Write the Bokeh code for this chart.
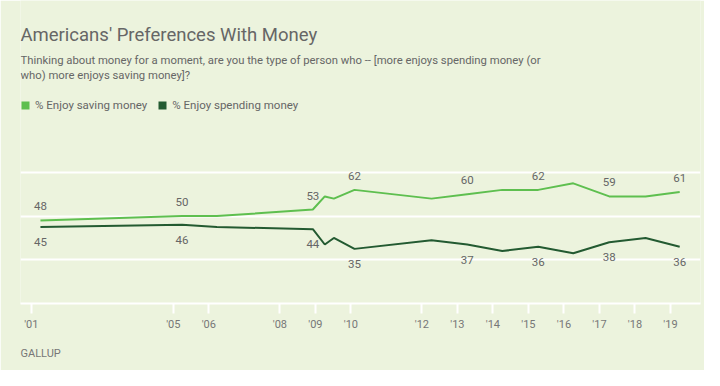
import pandas as pd
from bokeh.plotting import figure
from bokeh.models import (ColumnDataSource, Label, Legend, LegendItem, FixedTicker,
                          Grid, LinearAxis, CustomJSTickFormatter, Range1d, Title)
from bokeh.core.properties import value
from bokeh.embed import file_html
from bokeh.resources import INLINE

# ---------------- data ----------------
dates = ["2001-04-05", "2005-04-01", "2006-03-25", "2008-12-05", "2009-04-08",
         "2009-07-10", "2010-02-07", "2012-04-09", "2013-04-12", "2014-04-07",
         "2015-04-12", "2016-04-06", "2017-04-12", "2018-04-20", "2019-04-06"]
saving = [48, 50, 50, 53, 59, 58, 62, 58, 60, 62, 62, 65, 59, 59, 61]
spending = [45, 46, 45, 44, 37, 40, 35, 39, 37, 34, 36, 33, 38, 40, 36]
labelled = [True, True, False, True, False, False, True, False, True, False,
            True, False, True, False, True]
tick_years = [2001, 2005, 2006, 2008, 2009, 2010, 2012, 2013, 2014, 2015,
              2016, 2017, 2018, 2019]
grid_values = [30, 50, 70]
series_names = ["% Enjoy saving money", "% Enjoy spending money"]

title_text = "Americans' Preferences With Money"
subtitle_1 = "Thinking about money for a moment, are you the type of person who -- [more enjoys spending money (or"
subtitle_2 = "who) more enjoys saving money]?"
source_text = "GALLUP"

# ---------------- styling ----------------
BG = "#ecf3dd"
LIGHT = "#5ebf4f"
DARK = "#235a31"
TEXT = "#666666"
FONT = "Roboto"

ts = pd.to_datetime(pd.Series(dates))
xs = list(ts.dt.year + (ts.dt.dayofyear - 1) / 365.0)

src = ColumnDataSource(dict(x=xs, save=saving, spend=spending))
lab_x = [x for x, f in zip(xs, labelled) if f]
lab_save = [v for v, f in zip(saving, labelled) if f]
lab_spend = [v for v, f in zip(spending, labelled) if f]
lab_src = ColumnDataSource(dict(x=lab_x, save=lab_save, spend=lab_spend,
                                save_t=[str(v) for v in lab_save],
                                spend_t=[str(v) for v in lab_spend]))

# frame spans y = 0..303 px of the canvas; 2.185 px per percentage point
p = figure(width=704, height=370, output_backend="svg", toolbar_location=None,
           x_axis_location=None, y_axis_location=None,
           x_range=Range1d(2000.696, 2019.846), y_range=Range1d(10, 10 + 303 / 2.185),
           min_border_left=20, min_border_right=4, min_border_top=0,
           min_border_bottom=67)
p.background_fill_color = BG
p.border_fill_color = BG
p.outline_line_color = None
p.title.visible = False
p.xgrid.grid_line_color = None
p.ygrid.grid_line_color = None

grid = Grid(dimension=1, ticker=FixedTicker(ticks=grid_values),
            grid_line_color="white", grid_line_width=2)
p.add_layout(grid)

xaxis = LinearAxis(ticker=FixedTicker(ticks=tick_years),
                   formatter=CustomJSTickFormatter(code="return \"'\" + String(Math.round(tick)).slice(2);"))
xaxis.axis_line_color = "white"
xaxis.axis_line_width = 2
xaxis.major_tick_line_color = "white"
xaxis.major_tick_line_width = 2
xaxis.major_tick_in = 0
xaxis.major_tick_out = 10
xaxis.minor_tick_line_color = None
xaxis.major_label_text_font = FONT
xaxis.major_label_text_font_size = "11px"
xaxis.major_label_text_color = "#777777"
xaxis.major_label_standoff = 4
p.add_layout(xaxis, "below")

p.add_layout(Title(text=source_text, align="left", text_font=FONT,
                   text_font_size="11px", text_color="#777777",
                   text_font_style="normal", standoff=22), "below")

r_save = p.line("x", "save", source=src, line_color=LIGHT, line_width=2)
r_spend = p.line("x", "spend", source=src, line_color=DARK, line_width=2)

p.text("x", "save", text="save_t", source=lab_src, text_align="center",
       text_baseline="middle", y_offset=-14, text_font=value(FONT),
       text_font_size="11.5px", text_color=TEXT)
p.text("x", "spend", text="spend_t", source=lab_src, text_align="center",
       text_baseline="middle", y_offset=15, text_font=value(FONT),
       text_font_size="11.5px", text_color=TEXT)

# legend swatches: one quad each, placed left of the visible x range
sw = ColumnDataSource(dict(l=[1990.0], r=[1990.5], t=[0.0], b=[-1.0]))
q1 = p.quad(left="l", right="r", top="t", bottom="b", source=sw,
            fill_color=LIGHT, line_color=None)
q2 = p.quad(left="l", right="r", top="t", bottom="b", source=sw,
            fill_color=DARK, line_color=None)
legend = Legend(items=[LegendItem(label=series_names[0], renderers=[q1]),
                       LegendItem(label=series_names[1], renderers=[q2])],
                orientation="horizontal", location=(0, 191),
                glyph_width=10, glyph_height=10, label_height=10,
                label_standoff=5, spacing=10, padding=0, margin=0,
                border_line_color=None, background_fill_alpha=0,
                label_text_font=FONT, label_text_font_size="11.5px",
                label_text_color=TEXT)
p.add_layout(legend, "center")

p.add_layout(Label(x=0, y=269, x_units="screen", y_units="screen", text=title_text,
                   text_font=FONT, text_font_size="18.5px", text_color=TEXT,
                   text_baseline="alphabetic"))
p.add_layout(Label(x=0, y=243, x_units="screen", y_units="screen", text=subtitle_1,
                   text_font=FONT, text_font_size="11.3px", text_color=TEXT,
                   text_baseline="alphabetic"))
p.add_layout(Label(x=0, y=228, x_units="screen", y_units="screen", text=subtitle_2,
                   text_font=FONT, text_font_size="11.3px", text_color=TEXT,
                   text_baseline="alphabetic"))

open("out.html", "w").write(file_html(p, INLINE))
